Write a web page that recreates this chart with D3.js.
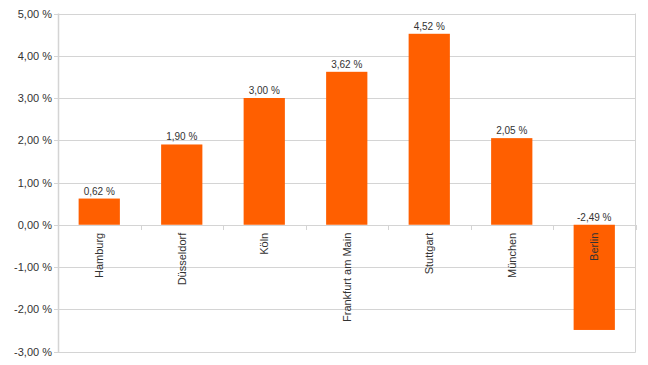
<!DOCTYPE html>
<html><head><meta charset="utf-8">
<script src="https://cdn.jsdelivr.net/npm/d3@7"></script>
<style>body{margin:0;background:#fff}svg{display:block}text{font-family:"Liberation Sans",Arial,sans-serif}</style>
</head><body><svg id="c" width="648" height="365"></svg>
<script>
const categories = ["Hamburg","Düsseldorf","Köln","Frankfurt am Main","Stuttgart","München","Berlin"];
const values = [0.62, 1.90, 3.00, 3.62, 4.52, 2.05, -2.49];
const yTicks = [-3,-2,-1,0,1,2,3,4,5];

const svg = d3.select("#c");
const L = 58, R = 635.5, T = 13.5, B = 351.5;
const x = d3.scaleBand().domain(categories).range([L, R]).paddingInner(0.5).paddingOuter(0.25);
const y = d3.scaleLinear().domain([-3, 5]).range([B, T]);
const fmt = v => d3.format(".2f")(v).replace(".", ",").replace("−","-") + " %";

// gridlines
svg.append("g").selectAll("line").data(yTicks).join("line")
  .attr("x1", L).attr("x2", R).attr("y1", d => Math.round(y(d)) + 0.5).attr("y2", d => Math.round(y(d)) + 0.5)
  .attr("stroke", "#d4d4d4").attr("stroke-width", 1);
// left axis and right border
svg.append("line").attr("x1", L + 0.5).attr("x2", L + 0.5).attr("y1", T).attr("y2", B + 1).attr("stroke", "#d4d4d4").attr("stroke-width", 1.5);
svg.append("line").attr("x1", R).attr("x2", R).attr("y1", T).attr("y2", B + 1).attr("stroke", "#d4d4d4").attr("stroke-width", 1);
// y tick marks
svg.append("g").selectAll("line").data(yTicks).join("line")
  .attr("x1", L - 4).attr("x2", L).attr("y1", d => Math.round(y(d)) + 0.5).attr("y2", d => Math.round(y(d)) + 0.5)
  .attr("stroke", "#d4d4d4");
// y labels
svg.append("g").selectAll("text").data(yTicks).join("text")
  .attr("x", L - 6).attr("y", d => y(d) + 4).attr("text-anchor", "end")
  .attr("font-size", 11).attr("fill", "#333").text(fmt);

// category boundary ticks
const step = x.step();
const bounds = d3.range(categories.length + 1).map(i => L + i * step);
svg.append("g").selectAll("line").data(bounds).join("line")
  .attr("x1", d => Math.round(d) + 0.5).attr("x2", d => Math.round(d) + 0.5)
  .attr("y1", Math.round(y(0))).attr("y2", Math.round(y(0)) + 5)
  .attr("stroke", "#d4d4d4");

// bars
svg.append("g").selectAll("rect").data(values).join("rect")
  .attr("x", (d, i) => x(categories[i])).attr("width", x.bandwidth())
  .attr("y", d => y(Math.max(0, d))).attr("height", d => Math.abs(y(d) - y(0)))
  .attr("fill", "#ff5f00");

// value labels
svg.append("g").selectAll("text").data(values).join("text")
  .attr("x", (d, i) => x(categories[i]) + x.bandwidth() / 2)
  .attr("y", d => y(Math.max(0, d)) - 4)
  .attr("text-anchor", "middle").attr("font-size", 10).attr("fill", "#333").text(fmt);

// category labels (rotated)
svg.append("g").selectAll("text").data(categories).join("text")
  .attr("transform", d => `translate(${x(d) + x.bandwidth() / 2 + 4},${y(0) + 8}) rotate(-90)`)
  .attr("text-anchor", "end").attr("font-size", 11).attr("fill", "#333").text(d => d);
</script></body></html>
